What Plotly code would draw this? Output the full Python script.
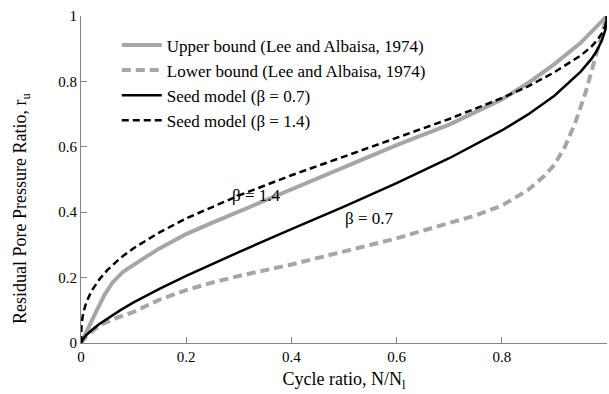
import plotly.graph_objects as go

# Upper bound (Lee and Albaisa, 1974)
ub_x = [0, 0.01, 0.02, 0.03, 0.045, 0.06, 0.08, 0.1, 0.125, 0.15, 0.2, 0.25, 0.3, 0.4, 0.5, 0.6, 0.7, 0.75, 0.8, 0.85, 0.9, 0.95, 0.98, 1.0]
ub_y = [0, 0.035, 0.068, 0.10, 0.148, 0.185, 0.218, 0.240, 0.265, 0.290, 0.333, 0.368, 0.402, 0.470, 0.540, 0.605, 0.668, 0.705, 0.745, 0.795, 0.853, 0.918, 0.965, 1.0]

# Lower bound (Lee and Albaisa, 1974)
lb_x = [0, 0.01, 0.02, 0.04, 0.07, 0.1, 0.15, 0.2, 0.25, 0.3, 0.4, 0.5, 0.6, 0.7, 0.75, 0.8, 0.85, 0.88, 0.9, 0.92, 0.94, 0.96, 0.98, 0.99, 1.0]
lb_y = [0, 0.02, 0.035, 0.058, 0.078, 0.095, 0.133, 0.162, 0.185, 0.205, 0.24, 0.28, 0.32, 0.367, 0.39, 0.42, 0.468, 0.51, 0.545, 0.60, 0.675, 0.77, 0.88, 0.94, 1.0]

# Seed model (beta = 0.7)
s07_x = [0, 0.002, 0.005, 0.01, 0.02, 0.035, 0.05, 0.075, 0.1, 0.15, 0.2, 0.3, 0.4, 0.5, 0.6, 0.7, 0.8, 0.85, 0.9, 0.95, 0.97, 0.98, 0.99, 0.997, 1.0]
s07_y = [0, 0.0075, 0.0145, 0.024, 0.039, 0.058, 0.075, 0.1005, 0.124, 0.166, 0.205, 0.278, 0.348, 0.417, 0.489, 0.565, 0.650, 0.699, 0.756, 0.830, 0.868, 0.892, 0.924, 0.958, 1.0]

# Seed model (beta = 1.4)
s14_x = [0, 0.001, 0.003, 0.005, 0.01, 0.02, 0.035, 0.05, 0.075, 0.1, 0.15, 0.2, 0.3, 0.4, 0.5, 0.6, 0.7, 0.8, 0.85, 0.9, 0.95, 0.97, 0.98, 0.99, 0.997, 1.0]
s14_y = [0, 0.054, 0.080, 0.096, 0.124, 0.159, 0.195, 0.223, 0.260, 0.290, 0.339, 0.381, 0.451, 0.513, 0.570, 0.627, 0.685, 0.749, 0.785, 0.828, 0.879, 0.906, 0.924, 0.946, 0.970, 1.0]

tick_vals = [0, 0.2, 0.4, 0.6, 0.8, 1]
tick_text = ["0", "0.2", "0.4", "0.6", "0.8", "1"]

GREY = "#a6a6a6"
FONT = "Liberation Serif"

fig = go.Figure()
fig.add_trace(go.Scatter(x=ub_x, y=ub_y, mode="lines", name="Upper bound (Lee and Albaisa, 1974)",
                         legendgroup="a", line=dict(color=GREY, width=4)))
fig.add_trace(go.Scatter(x=lb_x, y=lb_y, mode="lines", name="Lower bound (Lee and Albaisa, 1974)",
                         legendgroup="b", line=dict(color=GREY, width=4, dash="9px,5px")))
fig.add_trace(go.Scatter(x=s07_x, y=s07_y, mode="lines", name="Seed model (β = 0.7)",
                         legendgroup="c", line=dict(color="black", width=2.5)))
fig.add_trace(go.Scatter(x=s14_x, y=s14_y, mode="lines", name="Seed model (β = 1.4)",
                         legendgroup="d", line=dict(color="black", width=2.5, dash="7px,4px")))

fig.add_annotation(x=0.333, y=0.45, text="β = 1.4", showarrow=False, font=dict(size=17, color="black", family=FONT))
fig.add_annotation(x=0.548, y=0.382, text="β = 0.7", showarrow=False, font=dict(size=17, color="black", family=FONT))

# y-axis title as a rotated annotation (placed like the reference)
fig.add_annotation(xref="paper", yref="paper", x=-0.112, y=0.41, xanchor="center", yanchor="middle",
                   text="Residual Pore Pressure Ratio, r<sub>u</sub>", textangle=-90, showarrow=False,
                   font=dict(size=18, color="black", family=FONT))

axis_common = dict(
    range=[0, 1], tickvals=tick_vals, ticktext=tick_text, showgrid=False, zeroline=False,
    showline=True, linecolor="#868686", linewidth=1, ticks="inside", ticklen=6, tickcolor="#868686",
    tickfont=dict(size=15, color="black", family=FONT),
)

fig.update_layout(
    width=609, height=394,
    margin=dict(l=81, r=2, t=16, b=51),
    paper_bgcolor="white", plot_bgcolor="white",
    font=dict(family=FONT, color="black"),
    xaxis=dict(**axis_common, title=dict(text="Cycle ratio, N/N<sub>l</sub>", font=dict(size=18, family=FONT), standoff=8)),
    yaxis=dict(**axis_common),
    legend=dict(x=0.068, y=0.965, xanchor="left", yanchor="top", bgcolor="rgba(0,0,0,0)",
                font=dict(size=17, family=FONT, color="black"), tracegroupgap=0, itemwidth=40),
    showlegend=True,
)

fig.write_html("out.html")
